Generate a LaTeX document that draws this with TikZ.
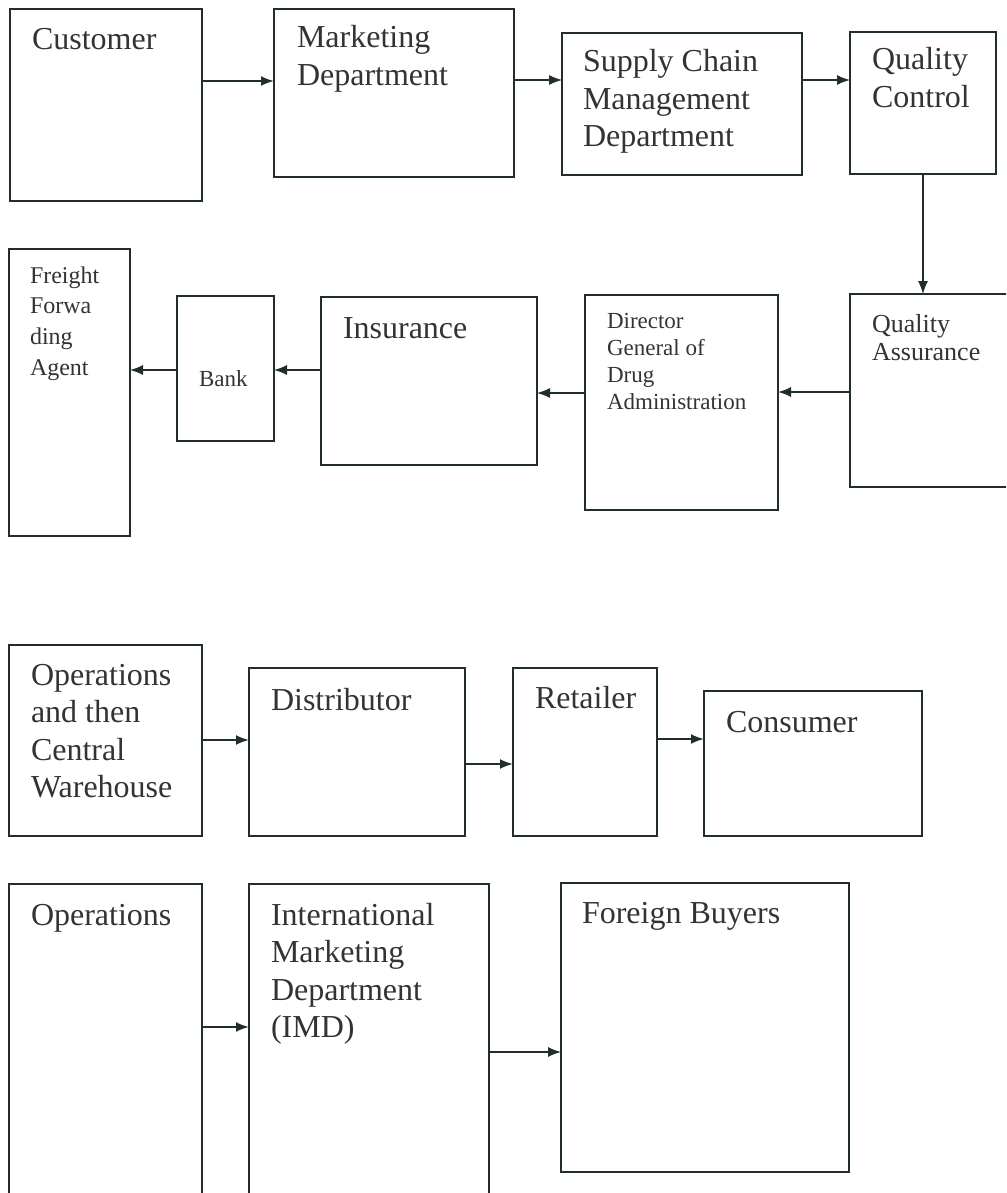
\documentclass[tikz,border=0pt]{standalone}
\usepackage{fontspec}
\setmainfont{Liberation Serif}
\usetikzlibrary{arrows.meta}

\definecolor{edge}{RGB}{34,46,42}
\definecolor{ink}{RGB}{48,52,50}

% left-aligned stack of lines whose baseline is the first line
\newcommand{\stackL}[1]{\vtop{\let\\\cr\halign{##\hfil\cr#1\crcr}}}

\tikzset{
  x=1pt, y=-1pt,
  box/.style={draw=edge, line width=1.6pt, inner sep=0pt, outer sep=0pt, anchor=north west, fill=none},
  lbl/.style={anchor=base west, inner sep=0pt, outer sep=0pt, text=ink},
  big/.style={font=\fontsize{32}{37.5}\selectfont},
  flow/.style={draw=edge, line width=1.5pt, -{Latex[length=13pt,width=10pt]}},
}

% box given by its corners (left,top) and (right,bottom)
\newcommand{\boxat}[5]{\node[box, minimum width=#4-#2, minimum height=#5-#3] (#1) at (#2,#3) {};}

\begin{document}
\begin{tikzpicture}
\useasboundingbox (0,0) rectangle (1006,1193);
\clip (0,0) rectangle (1006,1193);

% ---- export order chain: boxes ----
\boxat{cust}{10}{9}{202}{201}
\boxat{mkt}{274}{9}{514}{177}
\boxat{scm}{562}{33}{802}{175}
\boxat{qc}{850}{32}{996}{174}
\boxat{qa}{850}{294}{1040}{487}
\boxat{dgda}{585}{295}{778}{510}
\boxat{ins}{321}{297}{537}{465}
\boxat{bank}{177}{296}{274}{441}
\boxat{frt}{9}{249}{130}{536}

% ---- domestic chain ----
\boxat{opsA}{9}{645}{202}{836}
\boxat{dist}{249}{668}{465}{836}
\boxat{ret}{513}{668}{657}{836}
\boxat{cons}{704}{691}{922}{836}

% ---- international chain ----
\boxat{opsB}{9}{884}{202}{1230}
\boxat{imd}{249}{884}{489}{1230}
\boxat{fb}{561}{883}{849}{1172}

% ---- labels ----
\node[lbl, big] (cust-t) at (32,50) {Customer};
\node[lbl, big] (mkt-t) at (297,48) {\stackL{Marketing\\Department}};
\node[lbl, big] (scm-t) at (583,72) {\stackL{Supply Chain\\Management\\Department}};
\node[lbl, big] (qc-t) at (872,70) {\stackL{Quality\\Control}};
\node[lbl, font=\fontsize{26}{28}\selectfont] (qa-t) at (872,332) {\stackL{Quality\\Assurance}};
\node[lbl, font=\fontsize{23}{27.3}\selectfont] (dgda-t) at (607,328) {\stackL{Director\\General of\\Drug\\Administration}};
\node[lbl, big] (ins-t) at (343,338) {Insurance};
\node[lbl, font=\fontsize{23}{27}\selectfont] (bank-t) at (199,386) {Bank};
\node[lbl, font=\fontsize{24}{30.7}\selectfont] (frt-t) at (30,283) {\stackL{Freight\\Forwa\\ding\\Agent}};

\node[lbl, big] (opsA-t) at (31,685) {\stackL{Operations\\and then\\Central\\Warehouse}};
\node[lbl, big] (dist-t) at (271,710) {Distributor};
\node[lbl, big] (ret-t) at (535,708) {Retailer};
\node[lbl, big] (cons-t) at (726,732) {Consumer};

\node[lbl, big] (opsB-t) at (31,925) {Operations};
\node[lbl, big] (imd-t) at (271,925) {\stackL{International\\Marketing\\Department\\(IMD)}};
\node[lbl, big] (fb-t) at (582,923) {Foreign Buyers};

% ---- connectors ----
\draw[flow, line width=2pt] (cust.east |- 0,81) -- (mkt.west |- 0,81);
\draw[flow, line width=1.2pt] (mkt.east |- 0,80) -- (scm.west |- 0,80);
\draw[flow] (scm.east |- 0,80) -- (qc.west |- 0,80);
\draw[flow, line width=1.2pt] (qc.south -| 923,0) -- (qa.north -| 923,0);
\draw[flow] (qa.west |- 0,392) -- (dgda.east |- 0,392);
\draw[flow, line width=1.2pt] (dgda.west |- 0,393) -- (ins.east |- 0,393);
\draw[flow, line width=1.2pt] (ins.west |- 0,370) -- (bank.east |- 0,370);
\draw[flow, line width=1.2pt] (bank.west |- 0,370) -- (frt.east |- 0,370);

\draw[flow, line width=2pt] (opsA.east |- 0,740) -- (dist.west |- 0,740);
\draw[flow, line width=2pt] (dist.east |- 0,764) -- (ret.west |- 0,764);
\draw[flow, line width=2pt] (ret.east |- 0,739) -- (cons.west |- 0,739);

\draw[flow, line width=2pt] (opsB.east |- 0,1027) -- (imd.west |- 0,1027);
\draw[flow, line width=1.2pt] (imd.east |- 0,1052) -- (fb.west |- 0,1052);
\end{tikzpicture}
\end{document}
